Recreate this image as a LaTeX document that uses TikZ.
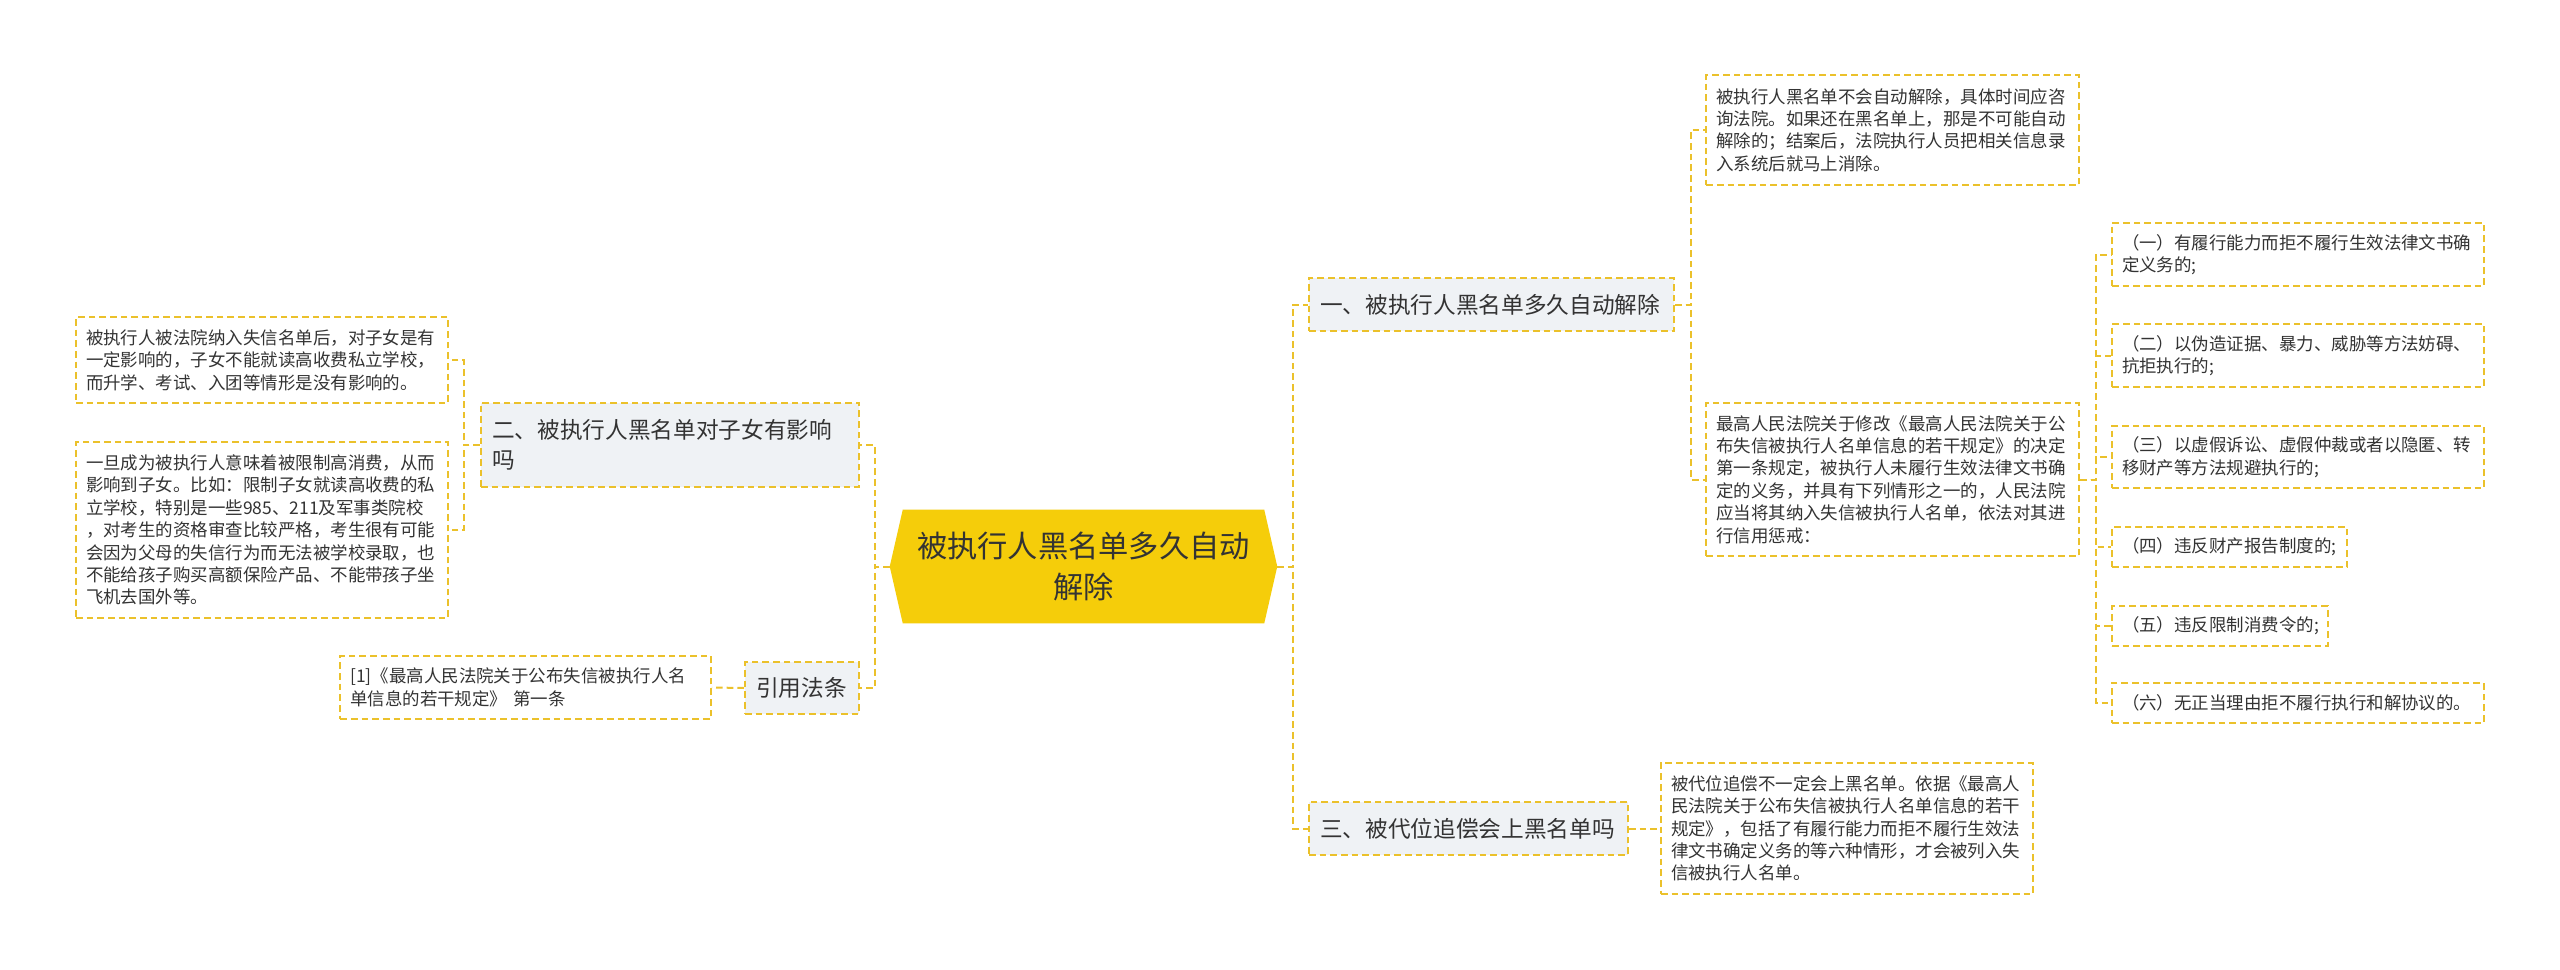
\documentclass[tikz,border=0pt]{standalone}
\usepackage{fontspec}
\setmainfont{Noto Sans CJK SC}
\usetikzlibrary{backgrounds}
\definecolor{ybord}{HTML}{EBC12B}
\definecolor{cfill}{HTML}{F5CD0A}
\definecolor{bfill}{HTML}{EFF2F5}
\definecolor{txt}{HTML}{333333}
\tikzset{
  dashbox/.style={draw=ybord, line width=1.5pt, dash pattern=on 5pt off 3pt},
  leaf/.style 2 args={dashbox, fill=white, text=txt, align=left, text width=#1, minimum height=#2, inner xsep=7.5pt, inner ysep=3pt, font=\fontsize{13.1pt}{16.8pt}\selectfont},
  branch/.style 2 args={dashbox, fill=bfill, text=txt, align=left, text width=#1, minimum height=#2, inner xsep=8.25pt, inner ysep=3pt, font=\fontsize{17pt}{22.5pt}\selectfont},
  conn/.style={draw=ybord, line width=1.5pt, dash pattern=on 5pt off 3pt},
  centre/.style={text=txt, align=center, text width=270pt, minimum width=290.25pt, minimum height=84.75pt, font=\fontsize{22.7pt}{30.5pt}\selectfont}
}
\begin{document}
\begin{tikzpicture}[x=0.75pt,y=-0.75pt]
\useasboundingbox (0,0) rectangle (2560,970);

% central
\node[centre] (c) at (1083.5,566.5) {被执行人黑名单多久自动\\解除};
\begin{scope}[on background layer]
\fill[white] (0,0) rectangle (2560,970);
\fill[cfill] ([xshift=9.75pt]c.north west) -- ([xshift=-9.75pt]c.north east) -- (c.east)
  -- ([xshift=-9.75pt]c.south east) -- ([xshift=9.75pt]c.south west) -- (c.west) -- cycle;
\end{scope}

% branches
\node[branch={257.25pt}{39.75pt}] (b1) at (1491.5,304.5) {一、被执行人黑名单多久自动解除};
\node[branch={222.75pt}{39.75pt}] (b3) at (1468.5,828.5) {三、被代位追偿会上黑名单吗};
\node[branch={267pt}{63pt}] (b2) at (670,445) {二、被执行人黑名单对子女有影响\\吗};
\node[branch={69pt}{39pt}] (b4) at (802,688) {引用法条};

% left leaves
\node[leaf={264pt}{64.5pt}] (l2a) at (262,360) {被执行人被法院纳入失信名单后，对子女是有\\一定影响的，子女不能就读高收费私立学校，\\而升学、考试、入团等情形是没有影响的。};
\node[leaf={264pt}{132pt}] (l2b) at (262,530) {一旦成为被执行人意味着被限制高消费，从而\\影响到子女。比如：限制子女就读高收费的私\\立学校，特别是一些985、211及军事类院校\\，对考生的资格审查比较严格，考生很有可能\\会因为父母的失信行为而无法被学校录取，也\\不能给孩子购买高额保险产品、不能带孩子坐\\飞机去国外等。};
\node[leaf={263pt}{47.25pt}] (l4) at (525.5,687.5) {[1]《最高人民法院关于公布失信被执行人名\\单信息的若干规定》 第一条};

% right leaves
\node[leaf={264.5pt}{82.5pt}] (l1a) at (1892.5,130) {被执行人黑名单不会自动解除，具体时间应咨\\询法院。如果还在黑名单上，那是不可能自动\\解除的；结案后，法院执行人员把相关信息录\\入系统后就马上消除。};
\node[leaf={264.5pt}{114.75pt}] (l1b) at (1892.5,479.5) {最高人民法院关于修改《最高人民法院关于公\\布失信被执行人名单信息的若干规定》的决定\\第一条规定，被执行人未履行生效法律文书确\\定的义务，并具有下列情形之一的，人民法院\\应当将其纳入失信被执行人名单，依法对其进\\行信用惩戒：};
\node[leaf={264pt}{98.25pt}] (l3) at (1847,828.5) {被代位追偿不一定会上黑名单。依据《最高人\\民法院关于公布失信被执行人名单信息的若干\\规定》，包括了有履行能力而拒不履行生效法\\律文书确定义务的等六种情形，才会被列入失\\信被执行人名单。};

% sub leaves
\node[leaf={264pt}{47.25pt}] (s1) at (2298,254.5) {（一）有履行能力而拒不履行生效法律文书确\\定义务的;};
\node[leaf={264pt}{47.25pt}] (s2) at (2298,355.5) {（二）以伪造证据、暴力、威胁等方法妨碍、\\抗拒执行的;};
\node[leaf={264pt}{46.5pt}] (s3) at (2298,457) {（三）以虚假诉讼、虚假仲裁或者以隐匿、转\\移财产等方法规避执行的;};
\node[leaf={161.25pt}{30pt}] (s4) at (2229.5,547) {（四）违反财产报告制度的;};
\node[leaf={147pt}{30pt}] (s5) at (2220,626) {（五）违反限制消费令的;};
\node[leaf={264pt}{30pt}] (s6) at (2298,703) {（六）无正当理由拒不履行执行和解协议的。};

% connectors
\draw[conn] (c.east) -- ++(16,0) |- (b1.west);
\draw[conn] (c.east) -- ++(16,0) |- (b3.west);
\draw[conn] (c.west) -- ++(-15,0) |- (b2.east);
\draw[conn] (c.west) -- ++(-15,0) |- (b4.east);
\draw[conn] (b2.west) -- ++(-16,0) |- (l2a.east);
\draw[conn] (b2.west) -- ++(-16,0) |- (l2b.east);
\draw[conn] (b4.west) -- (l4.east);
\draw[conn] (b1.east) -- ++(16,0) |- (l1a.west);
\draw[conn] (b1.east) -- ++(16,0) |- (l1b.west);
\draw[conn] (b3.east) -- (l3.west);
\foreach \s in {s1,s2,s3,s4,s5,s6}
  \draw[conn] (l1b.east) -- ++(16,0) |- (\s.west);
\end{tikzpicture}
\end{document}
